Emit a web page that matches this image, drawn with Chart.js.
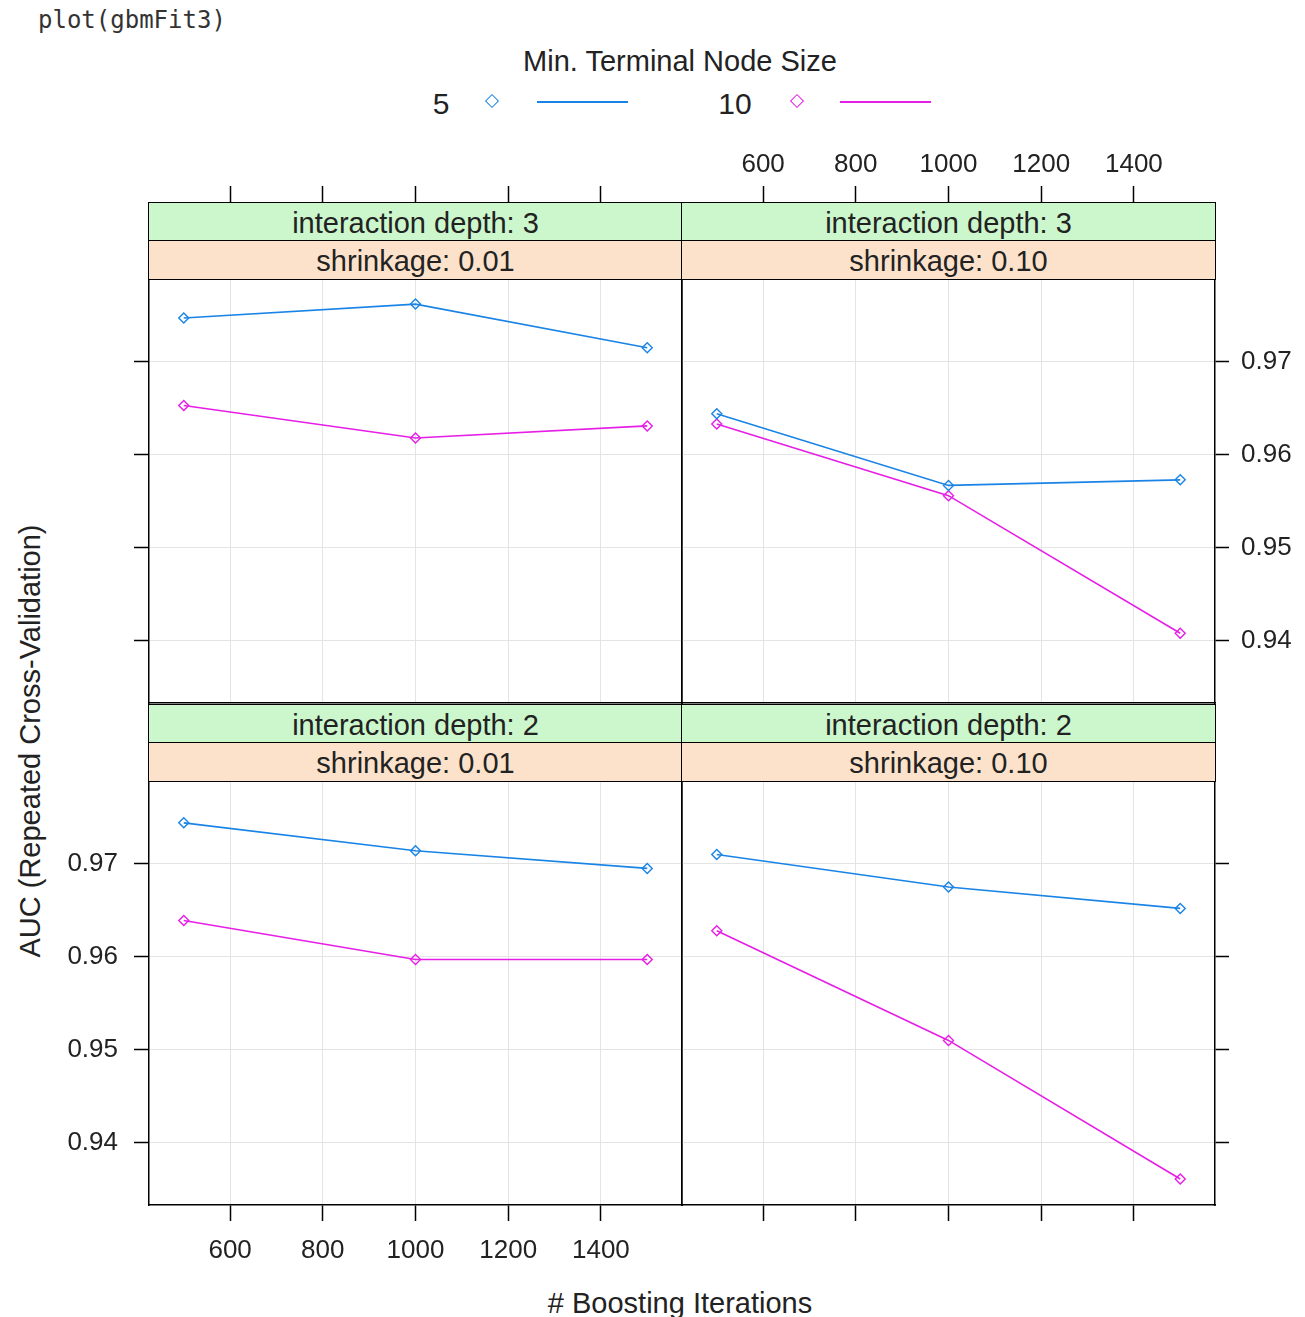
<!DOCTYPE html>
<html>
<head>
<meta charset="utf-8">
<script src="https://cdn.jsdelivr.net/npm/chart.js@4.4.1/dist/chart.umd.min.js"></script>
<style>
  body { margin: 0; background: #fff; }
  #wrap { position: relative; width: 1305px; height: 1317px; overflow: hidden; background: #fff;
          font-family: "Liberation Sans", Arial, sans-serif; color: #222; }
  canvas { position: absolute; }
  .strip { position: absolute; box-sizing: border-box; border: 1.5px solid #000; text-align: center;
           font-size: 29px; line-height: 40px; z-index: 5; color: #222; }
  .green { background: #ccf7cc; }
  .orange { background: #fde2cb; }
  .txt { position: absolute; white-space: nowrap; }
</style>
</head>
<body>
<div id="wrap">
  <div class="txt" style="left:38px;top:6px;font-family:'DejaVu Sans Mono',monospace;font-size:24px;color:#333;">plot(gbmFit3)</div>
  <div class="txt" style="left:680px;top:45px;transform:translateX(-50%);font-size:29px;">Min. Terminal Node Size</div>
  <div class="txt" style="left:441px;top:87px;transform:translateX(-50%);font-size:30px;">5</div>
  <div class="txt" style="left:487px;top:96px;width:8px;height:8px;border:1.5px solid #1a84e6;transform:rotate(45deg);"></div>
  <div class="txt" style="left:537px;top:101px;width:91px;height:0;border-top:2px solid #1a84e6;"></div>
  <div class="txt" style="left:735px;top:87px;transform:translateX(-50%);font-size:30px;">10</div>
  <div class="txt" style="left:792px;top:96px;width:8px;height:8px;border:1.5px solid #e61ee6;transform:rotate(45deg);"></div>
  <div class="txt" style="left:840px;top:101px;width:91px;height:0;border-top:2px solid #e61ee6;"></div>
  <div class="txt" style="left:30px;top:741px;transform:translate(-50%,-50%) rotate(-90deg);font-size:29px;">AUC (Repeated Cross-Validation)</div>
  <div class="txt" style="left:680px;top:1287px;transform:translateX(-50%);font-size:29px;"># Boosting Iterations</div>
</div>
<script>
// data
const iterations = [500, 1000, 1500];
const nodeSizes = ["5", "10"];
const xTickValues = [600, 800, 1000, 1200, 1400];
const yTickValues = [0.94, 0.95, 0.96, 0.97];

const depth3Shrink001Node5 = [0.9747, 0.9762, 0.9715];
const depth3Shrink001Node10 = [0.9653, 0.9618, 0.9631];
const depth3Shrink010Node5 = [0.9644, 0.9567, 0.9573];
const depth3Shrink010Node10 = [0.9633, 0.9556, 0.9408];
const depth2Shrink001Node5 = [0.9744, 0.9714, 0.9695];
const depth2Shrink001Node10 = [0.9639, 0.9597, 0.9597];
const depth2Shrink010Node5 = [0.9710, 0.9675, 0.9652];
const depth2Shrink010Node10 = [0.9628, 0.9510, 0.9361];

const colors = ["#1a84e6", "#e61ee6"];
const tickFont = { family: "Liberation Sans, Arial, sans-serif", size: 26 };
const wrap = document.getElementById("wrap");

// margins around each panel's plot area inside its canvas
const M = { left: 120, right: 120, top: 170, bottom: 80 };

function setTicks(vals) {
  return (scale) => { scale.ticks = vals.map((v) => ({ value: v })); };
}

function makePanel(box, strips, series, show) {
  const canvas = document.createElement("canvas");
  const w = box.w + M.left + M.right;
  const h = box.h + M.top + M.bottom;
  canvas.width = w;
  canvas.height = h;
  canvas.style.left = box.x - M.left + "px";
  canvas.style.top = box.y - M.top + "px";
  wrap.appendChild(canvas);

  strips.forEach((s, i) => {
    const d = document.createElement("div");
    d.className = "strip " + (i === 0 ? "green" : "orange");
    d.style.left = box.x - 0.75 + "px";
    d.style.width = box.w + 1.5 + "px";
    d.style.top = box.y - 76 + i * 38 - 0.75 + "px";
    d.style.height = 39.5 + "px";
    d.textContent = s;
    wrap.appendChild(d);
  });

  const xBase = { type: "linear", min: 425, max: 1575, afterBuildTicks: setTicks(xTickValues) };
  const yBase = { type: "linear", min: 0.9333, max: 0.9789, afterBuildTicks: setTicks(yTickValues) };
  const border = { display: true, color: "#000", width: 1.5 };

  new Chart(canvas, {
    type: "line",
    data: {
      datasets: series.map((vals, i) => ({
        label: nodeSizes[i],
        data: iterations.map((x, j) => ({ x: x, y: vals[j] })),
        borderColor: colors[i],
        borderWidth: 1.6,
        pointStyle: "rectRot",
        pointRadius: 5,
        pointBorderWidth: 1.4,
        pointBorderColor: colors[i],
        pointBackgroundColor: "rgba(0,0,0,0)",
        tension: 0,
        xAxisID: "x",
        yAxisID: "y",
      })),
    },
    options: {
      responsive: false,
      animation: false,
      events: [],
      layout: { padding: 0 },
      plugins: { legend: { display: false }, tooltip: { enabled: false } },
      scales: {
        x: Object.assign({}, xBase, {
          position: "bottom",
          afterFit: (s) => { s.height = M.bottom; },
          grid: { color: "#e4e4e4", lineWidth: 1, drawTicks: show.bottom, tickLength: 16, tickColor: "#000", tickWidth: 1.5 },
          border: border,
          ticks: { display: show.bottomLabels, font: tickFont, color: "#222", padding: 14, maxRotation: 0, autoSkip: false,
                   callback: (v) => String(v) },
        }),
        xTop: Object.assign({}, xBase, {
          position: "top",
          afterFit: (s) => { s.height = M.top; },
          grid: { drawOnChartArea: false, drawTicks: show.top, tickLength: 93, tickColor: "#000", tickWidth: 1.5 },
          border: border,
          ticks: { display: show.topLabels, font: tickFont, color: "#222", padding: 6, maxRotation: 0, autoSkip: false,
                   callback: (v) => String(v) },
        }),
        y: Object.assign({}, yBase, {
          position: "left",
          afterFit: (s) => { s.width = M.left; },
          grid: { color: "#e4e4e4", lineWidth: 1, drawTicks: show.left, tickLength: 15, tickColor: "#000", tickWidth: 1.5 },
          border: border,
          ticks: { display: show.leftLabels, font: tickFont, color: "#222", padding: 16,
                   callback: (v) => v.toFixed(2) },
        }),
        yRight: Object.assign({}, yBase, {
          position: "right",
          afterFit: (s) => { s.width = M.right; },
          grid: { drawOnChartArea: false, drawTicks: show.right, tickLength: 14, tickColor: "#000", tickWidth: 1.5 },
          border: border,
          ticks: { display: show.rightLabels, font: tickFont, color: "#222", padding: 12,
                   callback: (v) => v.toFixed(2) },
        }),
      },
    },
  });
}

makePanel({ x: 149, y: 279, w: 533, h: 424 }, ["interaction depth: 3", "shrinkage: 0.01"],
  [depth3Shrink001Node5, depth3Shrink001Node10],
  { top: true, topLabels: false, bottom: false, bottomLabels: false, left: true, leftLabels: false, right: false, rightLabels: false });
makePanel({ x: 682, y: 279, w: 533, h: 424 }, ["interaction depth: 3", "shrinkage: 0.10"],
  [depth3Shrink010Node5, depth3Shrink010Node10],
  { top: true, topLabels: true, bottom: false, bottomLabels: false, left: false, leftLabels: false, right: true, rightLabels: true });
makePanel({ x: 149, y: 781, w: 533, h: 424 }, ["interaction depth: 2", "shrinkage: 0.01"],
  [depth2Shrink001Node5, depth2Shrink001Node10],
  { top: false, topLabels: false, bottom: true, bottomLabels: true, left: true, leftLabels: true, right: false, rightLabels: false });
makePanel({ x: 682, y: 781, w: 533, h: 424 }, ["interaction depth: 2", "shrinkage: 0.10"],
  [depth2Shrink010Node5, depth2Shrink010Node10],
  { top: false, topLabels: false, bottom: true, bottomLabels: false, left: false, leftLabels: false, right: true, rightLabels: false });
</script>
</body>
</html>
